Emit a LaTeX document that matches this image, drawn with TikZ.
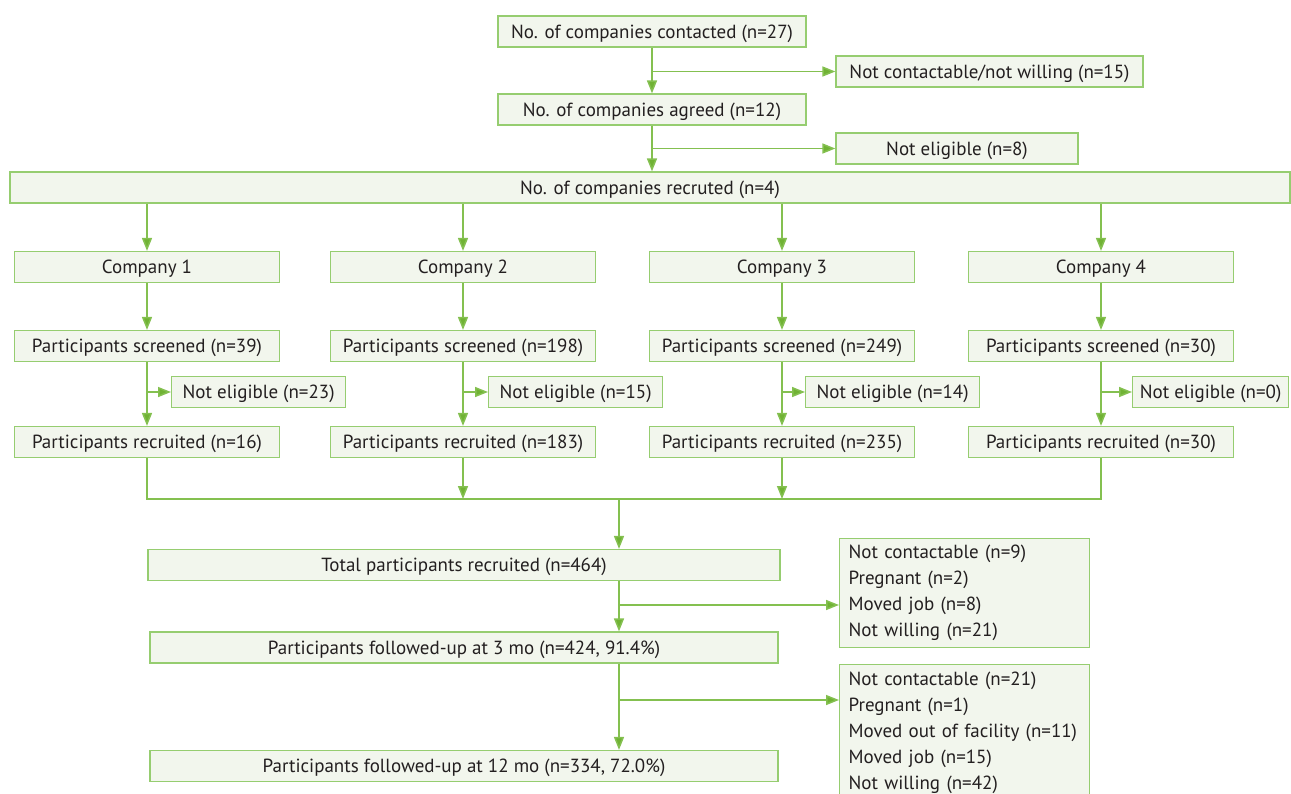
\documentclass[tikz,border=0pt]{standalone}
\usepackage{fontspec}
\setmainfont{PT Sans}
\usetikzlibrary{arrows.meta,positioning}

\definecolor{lnGreen}{RGB}{132,192,80}
\definecolor{tipGreen}{RGB}{112,178,52}
\definecolor{boxLine}{RGB}{150,205,112}
\definecolor{boxFill}{RGB}{242,246,237}
\definecolor{txtGray}{RGB}{35,31,32}

\tikzset{
  box/.style={draw=boxLine,fill=boxFill,line width=0.6pt,minimum height=15.5pt,
    inner sep=0pt,text=txtGray,text height=8.3pt,text depth=1.8pt},
  sidebox/.style={box,anchor=north west,align=left,inner xsep=4.5pt,
    text height=,text depth=,text width=116pt,minimum width=125pt},
  ln/.style={draw=lnGreen,line width=0.75pt},
  arr/.style={ln,-{Triangle[length=6.5pt,width=5pt,fill=tipGreen]}},
}

\begin{document}
\begin{tikzpicture}[x=0.5pt,y=-0.5pt,font=\fontsize{9.5}{13}\selectfont]
  \useasboundingbox (0,0) rectangle (1291,793);

  % companies
  \node[box,minimum width=154pt] (contacted) at (652,31.5) {No. of companies contacted (n=27)};
  \node[box,minimum width=153.5pt] (notcont) at (989.5,71.5) {Not contactable/not willing (n=15)};
  \node[box,minimum width=154pt] (agreed) at (652,109.5) {No. of companies agreed (n=12)};
  \node[box,minimum width=121pt] (notelig) at (957,148.5) {Not eligible (n=8)};
  \node[box,minimum width=640pt] (recruited) at (650,187.5) {No. of companies recruted (n=4)};

  \draw[arr] (contacted) -- (agreed);
  \draw[arr] (contacted.south |- notcont.west) -- (notcont.west);
  \draw[arr] (agreed) -- (agreed.south |- recruited.north);
  \draw[arr] (agreed.south |- notelig.west) -- (notelig.west);

  % one column per company
  \foreach \i/\cx/\sn/\ne/\rn/\nx/\nw in {1/147/39/23/16/171/87,
      2/463/198/15/183/488/87, 3/782/249/14/235/805/87, 4/1101/30/0/30/1132/78}{
    \node[box,minimum width=132.5pt] (comp\i) at (\cx,267) {Company \i};
    \node[box,minimum width=132.5pt] (scr\i) at (\cx,346) {Participants screened (n=\sn)};
    \node[box,minimum width=\nw pt,anchor=west] (inel\i) at (\nx,392) {Not eligible (n=\ne)};
    \node[box,minimum width=132.5pt] (rec\i) at (\cx,442) {Participants recruited (n=\rn)};
    \draw[arr] (recruited.south -| comp\i) -- (comp\i);
    \draw[arr] (comp\i) -- (scr\i);
    \draw[arr] (scr\i) -- (rec\i);
    \draw[arr] (scr\i.south |- inel\i.west) -- (inel\i.west);
  }

  % merge
  \coordinate (mrg) at (619,499);
  \draw[ln] (rec1.south) -- (rec1.south |- mrg) -- (rec4.south |- mrg) -- (rec4.south);
  \draw[arr] (rec2) -- (rec2.south |- mrg);
  \draw[arr] (rec3) -- (rec3.south |- mrg);

  % follow-up
  \node[box,minimum width=316pt] (total) at (464,565) {Total participants recruited (n=464)};
  \node[box,minimum width=314pt] (fu3) at (464,647.5) {Participants followed-up at 3 mo (n=424, 91.4\%)};
  \node[box,minimum width=314pt] (fu12) at (464,766) {Participants followed-up at 12 mo (n=334, 72.0\%)};
  \node[sidebox,minimum height=54.5pt] (lost3) at (839,538) {Not contactable (n=9)\\Pregnant (n=2)\\Moved job (n=8)\\Not willing (n=21)};
  \node[sidebox,minimum height=68pt] (lost12) at (839,664) {Not contactable (n=21)\\Pregnant (n=1)\\Moved out of facility (n=11)\\Moved job (n=15)\\Not willing (n=42)};

  \coordinate (b3) at (619,605);
  \coordinate (b12) at (619,700);
  \draw[arr] (mrg) -- (mrg |- total.north);
  \draw[arr] (total.south -| mrg) -- (fu3.north -| mrg);
  \draw[arr] (b3) -- (b3 -| lost3.west);
  \draw[arr] (fu3.south -| mrg) -- (fu12.north -| mrg);
  \draw[arr] (b12) -- (b12 -| lost12.west);
\end{tikzpicture}
\end{document}
